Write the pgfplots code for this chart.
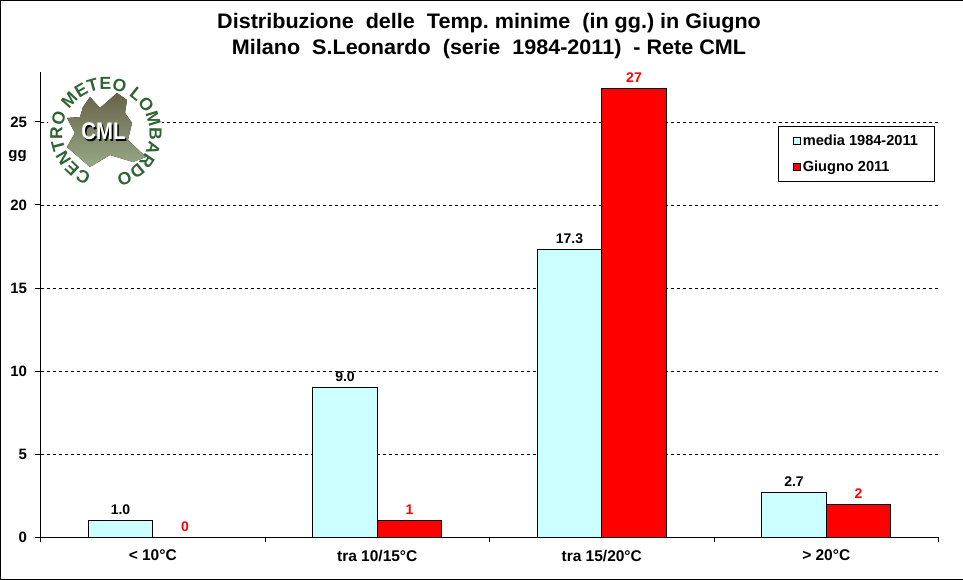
\documentclass[border=0pt]{standalone}
\usepackage{fontspec}
\setmainfont{Liberation Sans}
\usepackage{pgfplots}
\pgfplotsset{compat=1.18}
\usetikzlibrary{decorations.text}

\definecolor{media}{RGB}{204,255,255}
\definecolor{cmlgreen}{RGB}{45,100,50}
\definecolor{mountain}{RGB}{105,98,72}
\definecolor{plain}{RGB}{150,170,135}

\begin{document}
\begin{tikzpicture}
\useasboundingbox (0,0) rectangle (963pt,580pt);
\fill[white] (0,0) rectangle (963pt,580pt);
% frame: no line on the right side
\draw[black,line width=2pt] (963pt,0) -- (0,0) -- (0,580pt) -- (963pt,580pt);

\begin{axis}[
  at={(40.5pt,42.5pt)}, anchor=south west,
  scale only axis,
  width=898pt, height=465.5pt,
  ybar, bar width=64.5pt,
  xmin=-0.5, xmax=3.5, ymin=0, ymax=28,
  axis x line*=bottom, axis y line*=left,
  axis line style={-, line width=1pt},
  xtick={0,1,2,3},
  xticklabels={{< 10°C},{tra 10/15°C},{tra 15/20°C},{> 20°C}},
  minor xtick={-0.5,0.5,1.5,2.5,3.5},
  ytick={0,5,10,15,20,25},
  tick align=outside,
  major tick length=5pt, minor tick length=5pt,
  major x tick style={draw=none},
  every tick/.append style={black,line width=1pt},
  ymajorgrids,
  major grid style={black,dashed,line width=0.7pt},
  /pgf/number format/assume math mode=true,
  x tick label style={font=\bfseries\fontsize{15.5}{15.5}\selectfont,yshift=-4pt},
  y tick label style={font=\bfseries\fontsize{15}{15}\selectfont,xshift=-5pt},
  ylabel={gg},
  every axis y label/.style={at={(axis description cs:-0.0255,0.82)},anchor=center,font=\bfseries\fontsize{15}{15}\selectfont},
  nodes near coords,
  every node near coord/.append style={font=\bfseries\fontsize{14}{14}\selectfont,inner sep=5.5pt},
  legend cell align=left,
  legend style={at={(0.8218,0.885)},anchor=north west,draw=black,line width=1pt,
    font=\bfseries\fontsize{14.6}{14.6}\selectfont,
    inner xsep=14pt,inner ysep=6.5pt,row sep=10pt},
  legend image code/.code={\draw[#1,line width=0.8pt] (0pt,-3.5pt) rectangle (7pt,3.5pt);},
]
\addplot[draw=black,line width=1pt,fill=media,bar shift=-32.25pt,
  nodes near coords style={black,/pgf/number format/fixed,/pgf/number format/zerofill,/pgf/number format/precision=1}]
  coordinates {(0,1.0) (1,9.0) (2,17.3) (3,2.7)};
\addplot[draw=black,line width=1pt,fill=red,bar shift=32.25pt,
  nodes near coords style={red,/pgf/number format/fixed,/pgf/number format/precision=0}]
  coordinates {(0,0) (1,1) (2,27) (3,2)};
\legend{media 1984-2011,Giugno 2011}
\end{axis}

\node[font=\bfseries\fontsize{21}{25.5}\selectfont,align=center,xscale=1.027] at (489pt,544pt)
  {Distribuzione\ \ delle\ \ Temp.\ minime\ \ (in\ gg.)\ in\ Giugno\\
   Milano\ \ S.Leonardo\ \ (serie\ \ 1984-2011)\ \ -\ Rete\ CML};

% logo
\begin{scope}[x=1pt,y=-1pt,shift={(0pt,580pt)}]
\fill[white] (48,72) rectangle (162,195);
\fill[top color=mountain,bottom color=plain]
  (90,97) -- (100,108) -- (117,93) -- (127,100) -- (125,113) -- (132,123) -- (128,140)
  -- (146,157) -- (133,162) -- (110,155) -- (90,167) -- (67,147) -- (75,133) -- (67,118)
  -- (80,117) -- (83,107) -- cycle;
\node[font=\bfseries\fontsize{24}{24}\selectfont,xscale=0.85] at (105,133) {\color{black}CML};
\node[white,font=\bfseries\fontsize{24}{24}\selectfont,xscale=0.85] at (103.4,131.4) {CML};
\path[decorate,decoration={text along path,text align={fit to path},
    text={|\bfseries\fontsize{17.5}{17.5}\selectfont\color{cmlgreen}|CENTRO METEO LOMBARDO}}]
  (106,133) ++(109:43.5) arc[start angle=109,end angle=437,radius=43.5];
\end{scope}
\end{tikzpicture}
\end{document}
